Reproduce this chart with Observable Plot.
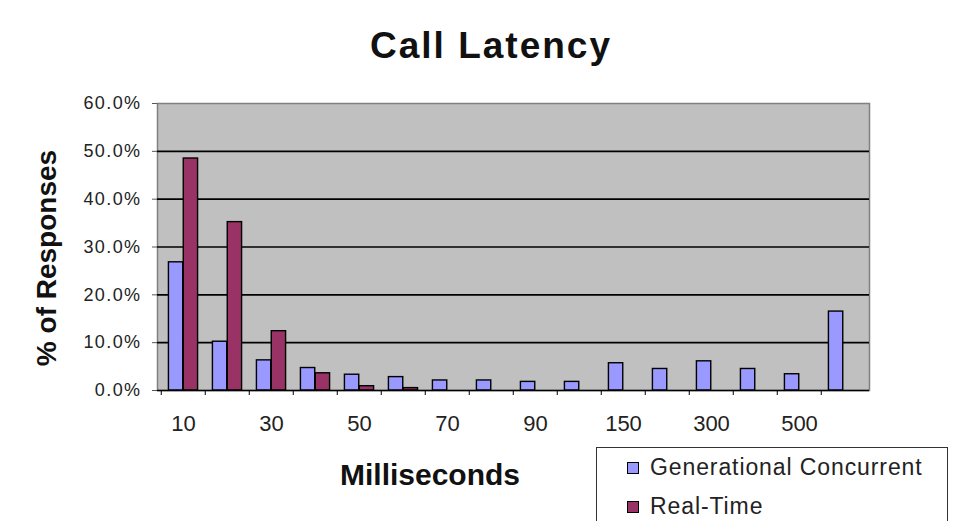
<!DOCTYPE html>
<html>
<head>
<meta charset="utf-8">
<script src="https://cdn.jsdelivr.net/npm/d3@7"></script>
<script src="https://cdn.jsdelivr.net/npm/@observablehq/plot@0.6"></script>
<style>
  html, body { margin: 0; padding: 0; background: #fff; }
  #wrap { position: relative; width: 956px; height: 521px; overflow: hidden; font-family: "Liberation Sans", Arial, sans-serif; }
  #title { position: absolute; left: 0; width: 982px; top: 25px; text-align: center; font-size: 37px; font-weight: bold; letter-spacing: 2px; color: #111; line-height: 42px; }
  #ylab { position: absolute; left: 47px; top: 258px; transform: translate(-50%, -50%) rotate(-90deg); font-size: 28px; font-weight: bold; color: #111; white-space: nowrap; line-height: 32px; }
  #xlab { position: absolute; left: 430px; top: 475px; transform: translate(-50%, -50%); font-size: 30px; font-weight: bold; color: #111; white-space: nowrap; line-height: 34px; }
  #legend { position: absolute; left: 596px; top: 447px; width: 350px; height: 90px; border: 1px solid #333; background: #fff; }
  .li { position: absolute; left: 30px; font-size: 23px; line-height: 26px; color: #222; white-space: nowrap; letter-spacing: 0.9px; }
  .sw { display: inline-block; width: 10px; height: 10px; border: 1px solid #000; margin-right: 11px; vertical-align: 1px; }
</style>
</head>
<body>
<div id="wrap">
  <div id="chart"></div>
  <div id="title">Call Latency</div>
  <div id="ylab">% of Responses</div>
  <div id="xlab">Milliseconds</div>
  <div id="legend">
    <div class="li" style="top:6px"><span class="sw" style="background:#9999ff"></span>Generational Concurrent</div>
    <div class="li" style="top:45px"><span class="sw" style="background:#993366"></span>Real-Time</div>
  </div>
</div>
<script>
const categories = ["10","20","30","40","50","60","70","80","90","100","150","200","300","400","500",">500"];
const generational = [26.8, 10.2, 6.3, 4.7, 3.3, 2.8, 2.1, 2.1, 1.8, 1.8, 5.7, 4.5, 6.1, 4.5, 3.4, 16.5];
const realTime = [48.5, 35.2, 12.4, 3.6, 0.9, 0.5, 0, 0, 0, 0, 0, 0, 0, 0, 0, 0];
const yTicks = [0, 10, 20, 30, 40, 50, 60];

const seriesNames = ["Generational Concurrent", "Real-Time"];
const colors = ["#9999ff", "#993366"];

const genData = categories.map((c, i) => ({cat: c, value: generational[i]}));
const rtData = categories.map((c, i) => ({cat: c, value: realTime[i]})).filter(d => d.value > 0);

const W = 956, H = 521, mL = 157, mR = 87, mT = 103, mB = 131;
const band = (W - mL - mR) / categories.length;
const barW = band / 3;
const gap = (band - 2 * barW) / 2;

const chart = Plot.plot({
  width: W,
  height: H,
  marginLeft: mL,
  marginRight: mR,
  marginTop: mT,
  marginBottom: mB,
  style: {fontFamily: "'Liberation Sans', Arial, sans-serif", color: "#222", background: "transparent"},
  x: {type: "band", domain: categories, padding: 0},
  y: {domain: [0, 60]},
  marks: [
    Plot.frame({fill: "#c0c0c0", stroke: "#808080", strokeWidth: 1.5}),
    Plot.ruleY(yTicks.slice(1, -1), {stroke: "#000", strokeWidth: 1.7}),
    Plot.barY(genData, {x: "cat", y: "value", fill: colors[0], stroke: "#000", strokeWidth: 1.4,
      insetLeft: gap, insetRight: gap + barW}),
    Plot.barY(rtData, {x: "cat", y: "value", fill: colors[1], stroke: "#000", strokeWidth: 1.4,
      insetLeft: gap + barW, insetRight: gap}),
    Plot.ruleY([0], {stroke: "#000", strokeWidth: 1.6}),
    Plot.axisY({ticks: yTicks, tickFormat: d => d.toFixed(1) + "%", tickSize: 5, tickPadding: 11, fontSize: 18, label: null, stroke: "#555"}),
    Plot.axisX({tickSize: 5, tickFormat: () => "", dx: -band / 2, label: null, stroke: "#000"}),
    Plot.axisX({ticks: categories.filter((c, i) => i % 2 === 0), tickSize: 0, tickPadding: 25, fontSize: 22, label: null})
  ]
});
d3.select(chart).selectAll('g[aria-label="y-axis tick label"] text').style("letter-spacing", "1.4px");
document.getElementById("chart").appendChild(chart);
</script>
</body>
</html>
